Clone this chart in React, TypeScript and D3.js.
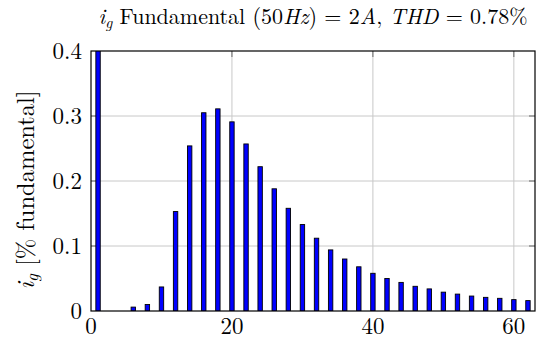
import React from "react";
import * as d3 from "d3";

// Harmonic order and magnitude in % of the fundamental
const harmonicOrders = [1, 6, 8, 10, 12, 14, 16, 18, 20, 22, 24, 26, 28, 30, 32, 34, 36, 38, 40, 42, 44, 46, 48, 50, 52, 54, 56, 58, 60, 62];
const harmonicValues = [100, 0.006, 0.010, 0.037, 0.153, 0.254, 0.305, 0.311, 0.291, 0.257, 0.222, 0.188, 0.158, 0.133, 0.112, 0.094, 0.080, 0.068, 0.058, 0.050, 0.044, 0.038, 0.034, 0.029, 0.026, 0.023, 0.021, 0.0195, 0.0175, 0.016];

const xTicks = [0, 20, 40, 60];
const yTicks = [0, 0.1, 0.2, 0.3, 0.4];
const yTickLabels = ["0", "0.1", "0.2", "0.3", "0.4"];

const W = 542;
const H = 341;
const M = { left: 91, right: 7, top: 51, bottom: 30 };
const FONT = "'Latin Modern Roman', 'CMU Serif', 'Liberation Serif', serif";
const FS_TICK = 23;
const FS_LABEL = 24.5;
const FS_TITLE = 22;

export default function App() {
  const x = d3.scaleLinear().domain([0, 63]).range([M.left, W - M.right]);
  const y = d3.scaleLinear().domain([0, 0.4]).range([H - M.bottom, M.top]);
  const [x0, x1] = x.range();
  const [y0, y1] = y.range();
  const barW = 4.4;
  const tickLen = 6;

  return (
    <svg
      width={W}
      height={H}
      style={{ position: "absolute", left: 0, top: 0, background: "#fff" }}
      fontFamily={FONT}
    >
      <defs>
        <clipPath id="plotClip">
          <rect x={x0} y={y1} width={x1 - x0} height={y0 - y1} />
        </clipPath>
      </defs>
      <rect x={0} y={0} width={W} height={H} fill="#fff" />

      {/* grid */}
      <g stroke="#c8c8c8" strokeWidth={1}>
        {xTicks.filter((t) => t > 0).map((t) => (
          <line key={"gx" + t} x1={x(t)} x2={x(t)} y1={y0} y2={y1} />
        ))}
        {yTicks.filter((t) => t > 0 && t < 0.4).map((t) => (
          <line key={"gy" + t} x1={x0} x2={x1} y1={y(t)} y2={y(t)} />
        ))}
      </g>

      {/* tick marks on all four sides */}
      <g stroke="#666" strokeWidth={1}>
        {xTicks.filter((t) => t > 0).map((t) => (
          <g key={"tx" + t}>
            <line x1={x(t)} x2={x(t)} y1={y0} y2={y0 - tickLen} />
            <line x1={x(t)} x2={x(t)} y1={y1} y2={y1 + tickLen} />
          </g>
        ))}
        {yTicks.filter((t) => t > 0 && t < 0.4).map((t) => (
          <g key={"ty" + t}>
            <line x1={x0} x2={x0 + tickLen} y1={y(t)} y2={y(t)} />
            <line x1={x1} x2={x1 - tickLen} y1={y(t)} y2={y(t)} />
          </g>
        ))}
      </g>

      {/* bars */}
      <g clipPath="url(#plotClip)">
        {harmonicOrders.map((h, i) => {
          const top = y(Math.min(harmonicValues[i], 1));
          return (
            <rect
              key={"b" + h}
              x={x(h) - barW / 2}
              y={top}
              width={barW}
              height={y0 - top}
              fill="#0000ff"
              stroke="#000"
              strokeWidth={0.9}
            />
          );
        })}
      </g>

      {/* frame */}
      <rect x={x0} y={y1} width={x1 - x0} height={y0 - y1} fill="none" stroke="#000" strokeWidth={1.2} />

      {/* x tick labels */}
      <g fontSize={FS_TICK} textAnchor="middle" fill="#000">
        {xTicks.map((t) => (
          <text key={"lx" + t} x={x(t)} y={y0 + 23}>{t}</text>
        ))}
      </g>

      {/* y tick labels */}
      <g fontSize={FS_TICK} textAnchor="end" fill="#000">
        {yTicks.map((t, i) => (
          <text key={"ly" + t} x={x0 - 9} y={y(t) + 7.5}>{yTickLabels[i]}</text>
        ))}
      </g>

      {/* y axis label */}
      <text
        transform={`translate(34, 190) rotate(-90)`}
        textAnchor="middle"
        fontSize={FS_LABEL}
        fill="#000"
      >
        <tspan fontStyle="italic">i</tspan>
        <tspan fontStyle="italic" fontSize={FS_LABEL * 0.7} dy={4}>g</tspan>
        <tspan dy={-4}> [% fundamental]</tspan>
      </text>

      {/* title */}
      <text x={(x0 + x1) / 2} y={23.5} textAnchor="middle" fontSize={FS_TITLE} fill="#000">
        <tspan fontStyle="italic">i</tspan>
        <tspan fontStyle="italic" fontSize={FS_TITLE * 0.7} dy={4}>g</tspan>
        <tspan dy={-4}> Fundamental (50</tspan>
        <tspan fontStyle="italic">Hz</tspan>
        <tspan>) = 2</tspan>
        <tspan fontStyle="italic">A</tspan>
        <tspan>, </tspan>
        <tspan fontStyle="italic">THD</tspan>
        <tspan> = 0.78%</tspan>
      </text>
    </svg>
  );
}
